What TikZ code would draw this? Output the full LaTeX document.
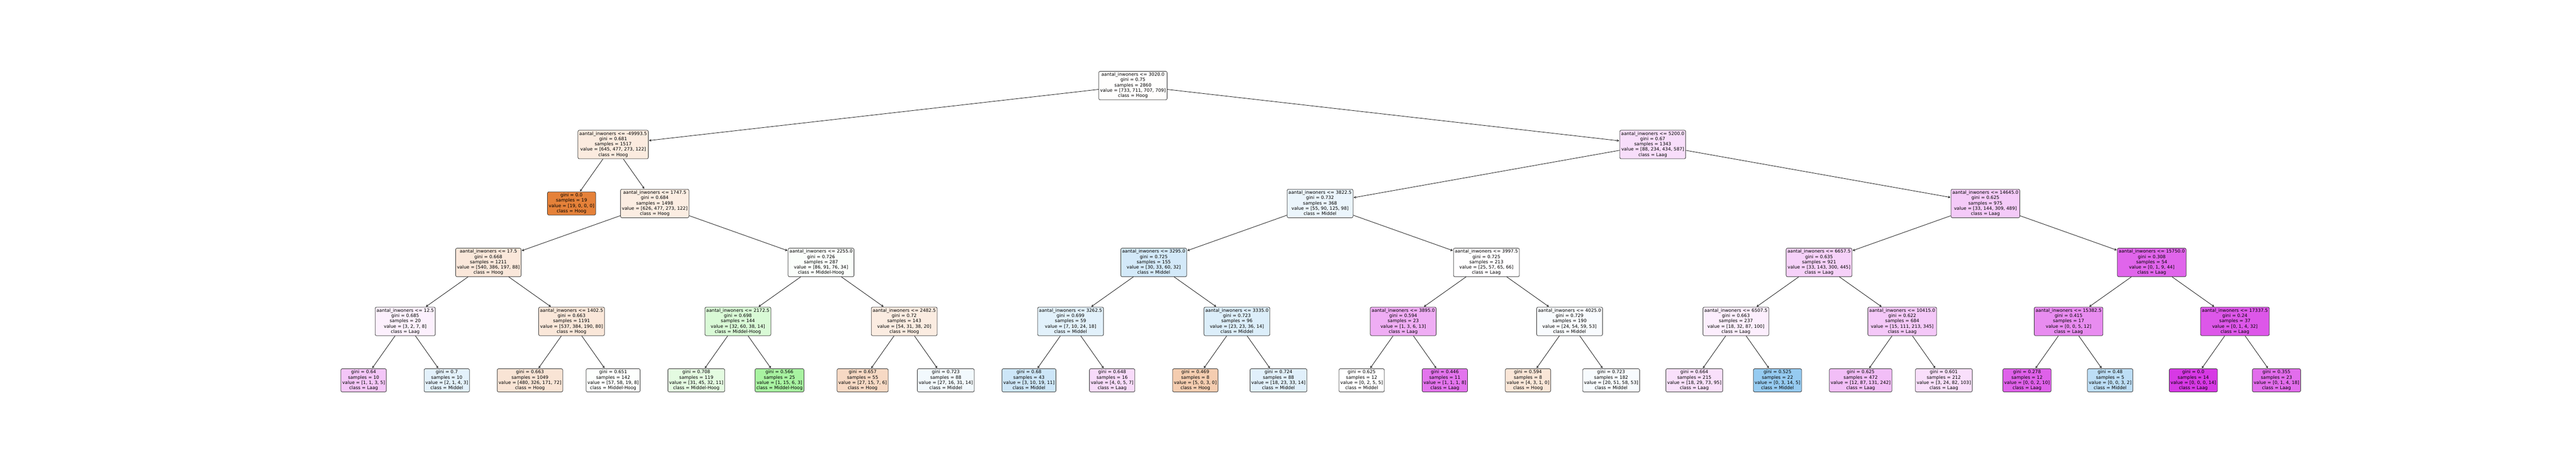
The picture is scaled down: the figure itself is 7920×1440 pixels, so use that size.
\documentclass[tikz,border=0pt]{standalone}
\usepackage{fontspec}
\setmainfont{DejaVu Sans}
\usetikzlibrary{arrows.meta}
\definecolor{hoog}{HTML}{E58139}
\definecolor{mh}{HTML}{47E539}
\definecolor{mid}{HTML}{399DE5}
\definecolor{laag}{HTML}{D739E5}
\definecolor{edgegray}{HTML}{333333}
\tikzset{
  tn/.style={draw=edgegray, line width=1.3bp, rounded corners=4.2bp,
    inner xsep=4.2bp, inner ysep=4.2bp, align=center,
    font=\fontsize{13.89bp}{16.25bp}\selectfont,
    execute at begin node={\rule{0pt}{11bp}},
    execute at end node={\rule[-3.6bp]{0pt}{0pt}}},
  tedge/.style={draw=black, line width=1.2bp, shorten >=1.5bp,
    -{Straight Barb[length=5.6bp,width=6bp,line width=1.1bp]}}
}
\newcommand\inode[9]{\node[tn,fill=#4] (#1) at ({1118+255.7*(#2)},{263+181.2*(#3)})
  {aantal\_inwoners <= #5\\gini = #6\\samples = #7\\value = [#8]\\class = #9};}
\newcommand\lnode[8]{\node[tn,fill=#4] (#1) at ({1118+255.7*(#2)},{263+181.2*(#3)})
  {gini = #5\\samples = #6\\value = [#7]\\class = #8};}
\begin{document}
\begin{tikzpicture}[x=1bp,y=-1bp]
\fill[white] (0,0) rectangle (7920,1440);
\useasboundingbox (0,0) rectangle (7920,1440);
% level 0-2
\inode{r}{9.25}{0}{hoog!1.0!white}{3020.0}{0.75}{2860}{733, 711, 707, 709}{Hoog}
\inode{a}{3}{1}{hoog!16.2!white}{-49993.5}{0.681}{1517}{645, 477, 273, 122}{Hoog}
\inode{b}{15.5}{1}{laag!16.8!white}{5200.0}{0.67}{1343}{88, 234, 434, 587}{Laag}
\lnode{aa}{2.5}{2}{hoog}{0.0}{19}{19, 0, 0, 0}{Hoog}
\inode{ab}{3.5}{2}{hoog!14.6!white}{1747.5}{0.684}{1498}{626, 477, 273, 122}{Hoog}
\inode{ba}{11.5}{2}{mid!10!white}{3822.5}{0.732}{368}{55, 90, 125, 98}{Middel}
\inode{bb}{19.5}{2}{laag!27!white}{14645.0}{0.625}{975}{33, 144, 309, 489}{Laag}
% level 3
\inode{k0}{1.5}{3}{hoog!18.7!white}{17.5}{0.668}{1211}{540, 386, 197, 88}{Hoog}
\inode{k1}{5.5}{3}{mh!2.5!white}{2255.0}{0.726}{287}{86, 91, 76, 34}{Middel-Hoog}
\inode{k2}{9.5}{3}{mid!22.1!white}{3295.0}{0.725}{155}{30, 33, 60, 32}{Middel}
\inode{k3}{13.5}{3}{laag!0.7!white}{3997.5}{0.725}{213}{25, 57, 65, 66}{Laag}
\inode{k4}{17.5}{3}{laag!23.3!white}{6657.5}{0.635}{921}{33, 143, 300, 445}{Laag}
\inode{k5}{21.5}{3}{laag!77.8!white}{15750.0}{0.308}{54}{0, 1, 9, 44}{Laag}
% level 4
\inode{m0}{0.5}{4}{laag!7.7!white}{12.5}{0.685}{20}{3, 2, 7, 8}{Laag}
\inode{m1}{2.5}{4}{hoog!19!white}{1402.5}{0.663}{1191}{537, 384, 190, 80}{Hoog}
\inode{m2}{4.5}{4}{mh!20.8!white}{2172.5}{0.698}{144}{32, 60, 38, 14}{Middel-Hoog}
\inode{m3}{6.5}{4}{hoog!15.2!white}{2482.5}{0.72}{143}{54, 31, 38, 20}{Hoog}
\inode{m4}{8.5}{4}{mid!14.6!white}{3262.5}{0.699}{59}{7, 10, 24, 18}{Middel}
\inode{m5}{10.5}{4}{mid!17.8!white}{3335.0}{0.723}{96}{23, 23, 36, 14}{Middel}
\inode{m6}{12.5}{4}{laag!41.2!white}{3895.0}{0.594}{23}{1, 3, 6, 13}{Laag}
\inode{m7}{14.5}{4}{mid!3.7!white}{4025.0}{0.729}{190}{24, 54, 59, 53}{Middel}
\inode{m8}{16.5}{4}{laag!8.7!white}{6507.5}{0.663}{237}{18, 32, 87, 100}{Laag}
\inode{m9}{18.5}{4}{laag!28!white}{10415.0}{0.622}{684}{15, 111, 213, 345}{Laag}
\inode{m10}{20.5}{4}{laag!58.3!white}{15382.5}{0.415}{17}{0, 0, 5, 12}{Laag}
\inode{m11}{22.5}{4}{laag!84.8!white}{17337.5}{0.24}{37}{0, 1, 4, 32}{Laag}
% level 5
\lnode{l0}{0}{5}{laag!28.6!white}{0.64}{10}{1, 1, 3, 5}{Laag}
\lnode{l1}{1}{5}{mid!14.3!white}{0.7}{10}{2, 1, 4, 3}{Middel}
\lnode{l2}{2}{5}{hoog!21.3!white}{0.663}{1049}{480, 326, 171, 72}{Hoog}
\lnode{l3}{3}{5}{mh!1.2!white}{0.651}{142}{57, 58, 19, 8}{Middel-Hoog}
\lnode{l4}{4}{5}{mh!14.9!white}{0.708}{119}{31, 45, 32, 11}{Middel-Hoog}
\lnode{l5}{5}{5}{mh!47.4!white}{0.566}{25}{1, 15, 6, 3}{Middel-Hoog}
\lnode{l6}{6}{5}{hoog!30!white}{0.657}{55}{27, 15, 7, 6}{Hoog}
\lnode{l7}{7}{5}{mid!6.6!white}{0.723}{88}{27, 16, 31, 14}{Middel}
\lnode{l8}{8}{5}{mid!25!white}{0.68}{43}{3, 10, 19, 11}{Middel}
\lnode{l9}{9}{5}{laag!18.2!white}{0.648}{16}{4, 0, 5, 7}{Laag}
\lnode{l10}{10}{5}{hoog!40!white}{0.469}{8}{5, 0, 3, 0}{Hoog}
\lnode{l11}{11}{5}{mid!15.4!white}{0.724}{88}{18, 23, 33, 14}{Middel}
\lnode{l12}{12}{5}{white}{0.625}{12}{0, 2, 5, 5}{Middel}
\lnode{l13}{13}{5}{laag!70!white}{0.446}{11}{1, 1, 1, 8}{Laag}
\lnode{l14}{14}{5}{hoog!20!white}{0.594}{8}{4, 3, 1, 0}{Hoog}
\lnode{l15}{15}{5}{mid!4!white}{0.723}{182}{20, 51, 58, 53}{Middel}
\lnode{l16}{16}{5}{laag!15.5!white}{0.664}{215}{18, 29, 73, 95}{Laag}
\lnode{l17}{17}{5}{mid!52.9!white}{0.525}{22}{0, 3, 14, 5}{Middel}
\lnode{l18}{18}{5}{laag!32.6!white}{0.625}{472}{12, 87, 131, 242}{Laag}
\lnode{l19}{19}{5}{laag!16.2!white}{0.601}{212}{3, 24, 82, 103}{Laag}
\lnode{l20}{20}{5}{laag!80!white}{0.278}{12}{0, 0, 2, 10}{Laag}
\lnode{l21}{21}{5}{mid!33.3!white}{0.48}{5}{0, 0, 3, 2}{Middel}
\lnode{l22}{22}{5}{laag}{0.0}{14}{0, 0, 0, 14}{Laag}
\lnode{l23}{23}{5}{laag!73.7!white}{0.355}{23}{0, 1, 4, 18}{Laag}
% edges
\begin{scope}[on background layer/.style={}]
\foreach \p/\c in {r/a, r/b, a/aa, a/ab, b/ba, b/bb, ab/k0, ab/k1, ba/k2, ba/k3, bb/k4, bb/k5}
  \draw[tedge] (\p) -- (\c);
\foreach \i in {0,...,5} {
  \pgfmathtruncatemacro\ja{2*\i}\pgfmathtruncatemacro\jb{2*\i+1}
  \draw[tedge] (k\i) -- (m\ja);
  \draw[tedge] (k\i) -- (m\jb);
}
\foreach \i in {0,...,11} {
  \pgfmathtruncatemacro\ja{2*\i}\pgfmathtruncatemacro\jb{2*\i+1}
  \draw[tedge] (m\i) -- (l\ja);
  \draw[tedge] (m\i) -- (l\jb);
}
\end{scope}
\end{tikzpicture}
\end{document}
